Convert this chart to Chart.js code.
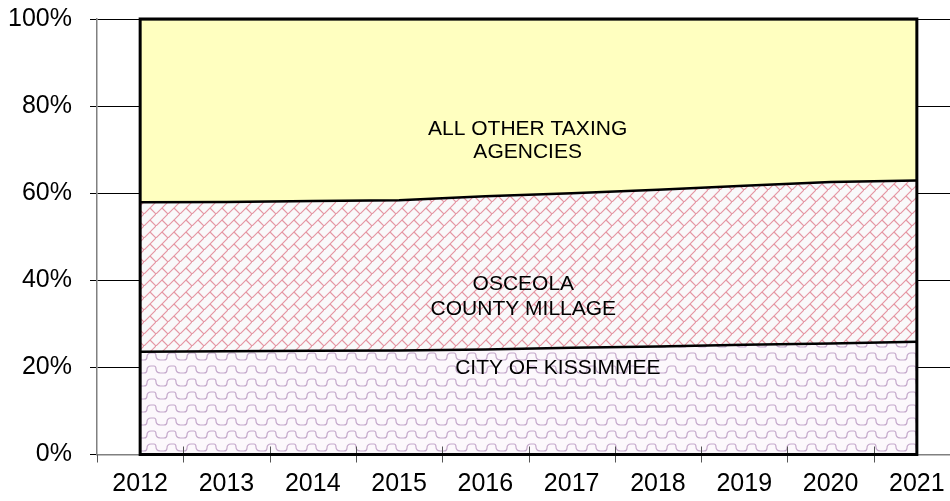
<!DOCTYPE html>
<html>
<head>
<meta charset="utf-8">
<title>Tax levy share</title>
<script src="https://cdn.jsdelivr.net/npm/chart.js@4/dist/chart.umd.min.js"></script>
<style>
    html, body { margin: 0; padding: 0; background: #fff; overflow: hidden; }
    #wrap { width: 960px; height: 515px; margin-top: -14px; }
</style>
</head>
<body>
<div id="wrap"><canvas id="shareChart" width="960" height="515"></canvas></div>
<script>
// Data (percent of total levy)
const YEARS = ['2012', '2013', '2014', '2015', '2016', '2017', '2018', '2019', '2020', '2021'];
const CITY_OF_KISSIMMEE = [23.6, 23.7, 23.8, 23.9, 24.1, 24.5, 24.8, 25.2, 25.5, 25.9];
const OSCEOLA_COUNTY = [34.3, 34.3, 34.4, 34.5, 35.2, 35.5, 36.0, 36.5, 37.1, 37.0];
const ALL_OTHER = [42.1, 42.0, 41.8, 41.6, 40.7, 40.0, 39.2, 38.3, 37.4, 37.1];
const Y_TICKS = [0, 20, 40, 60, 80, 100];

const LABEL_OTHER = ['ALL OTHER TAXING', 'AGENCIES'];
const LABEL_COUNTY = ['OSCEOLA', 'COUNTY MILLAGE'];
const LABEL_CITY = ['CITY OF KISSIMMEE'];

const canvas = document.getElementById('shareChart');
const ctx = canvas.getContext('2d');

// Diagonal brick fill (county)
function brickPattern() {
    const T = 12;
    const c = document.createElement('canvas');
    c.width = T; c.height = T;
    const g = c.getContext('2d');
    g.fillStyle = '#f9f9fa';
    g.fillRect(0, 0, T, T);
    g.strokeStyle = '#e596a3';
    g.lineWidth = 1.2;
    g.beginPath();
    g.moveTo(-1, T + 1); g.lineTo(T + 1, -1);
    g.moveTo(T / 2, T / 2); g.lineTo(T + 1, T + 1);
    g.stroke();
    return ctx.createPattern(c, 'repeat');
}

// Wave / scallop fill (city)
function wavePattern() {
    const W = 20, H = 13;
    const c = document.createElement('canvas');
    c.width = W; c.height = H;
    const g = c.getContext('2d');
    g.fillStyle = '#fcf8fc';
    g.fillRect(0, 0, W, H);
    g.strokeStyle = '#c4a8cb';
    g.lineWidth = 1.2;
    g.beginPath();
    g.moveTo(-1, 10);
    g.lineTo(4, 10);
    g.quadraticCurveTo(7, 10, 7, 7);
    g.quadraticCurveTo(7, 3, 11, 3);
    g.lineTo(14, 3);
    g.quadraticCurveTo(16, 3, 16, 6);
    g.quadraticCurveTo(16, 10, 21, 10);
    g.stroke();
    return ctx.createPattern(c, 'repeat');
}

// Outer frame of the stacked area + x tick marks crossing the axis
const frameAndTicks = {
    id: 'frameAndTicks',
    afterDatasetsDraw(chart) {
        const { ctx, scales: { x, y } } = chart;
        const x0 = x.getPixelForValue(0);
        const x1 = x.getPixelForValue(YEARS.length - 1);
        const yb = y.getPixelForValue(0);
        const yt = y.getPixelForValue(100);
        ctx.save();
        ctx.strokeStyle = '#555';
        ctx.lineWidth = 1;
        ctx.beginPath();
        for (let i = 0; i <= YEARS.length; i++) {
            const px = Math.round(x.getPixelForValue(i - 0.5)) + 0.5;
            ctx.moveTo(px, i === 0 ? yb : yb - 8);
            ctx.lineTo(px, yb + 8);
        }
        ctx.stroke();
        ctx.strokeStyle = '#000';
        ctx.lineWidth = 3;
        ctx.strokeRect(x0, yt, x1 - x0, yb - yt);
        ctx.restore();
    }
};

// Series names written inside the areas
const areaLabels = {
    id: 'areaLabels',
    afterDatasetsDraw(chart) {
        const { ctx, scales: { x, y } } = chart;
        const put = (lines, xi, yv, gap) => {
            lines.forEach((t, k) => {
                ctx.fillText(t, x.getPixelForValue(xi), y.getPixelForValue(yv) + k * gap);
            });
        };
        ctx.save();
        ctx.font = '21px Arial, "Liberation Sans", sans-serif';
        ctx.fillStyle = '#000';
        ctx.textAlign = 'center';
        ctx.textBaseline = 'middle';
        put(LABEL_OTHER, 4.49, 74.6, 23);
        put(LABEL_COUNTY, 4.44, 39.2, 25);
        put(LABEL_CITY, 4.84, 19.9, 0);
        ctx.restore();
    }
};

const tickFont = { family: 'Arial, "Liberation Sans", sans-serif', size: 25 };

new Chart(ctx, {
    type: 'line',
    data: {
        labels: YEARS,
        datasets: [
            {
                label: 'CITY OF KISSIMMEE',
                data: CITY_OF_KISSIMMEE,
                backgroundColor: wavePattern(),
                borderColor: '#000',
                borderWidth: 2.5,
                fill: 'origin'
            },
            {
                label: 'OSCEOLA COUNTY MILLAGE',
                data: OSCEOLA_COUNTY,
                backgroundColor: brickPattern(),
                borderColor: '#000',
                borderWidth: 2.5,
                fill: '-1'
            },
            {
                label: 'ALL OTHER TAXING AGENCIES',
                data: ALL_OTHER,
                backgroundColor: '#ffffc0',
                borderColor: '#000',
                borderWidth: 2.5,
                fill: '-1'
            }
        ]
    },
    options: {
        responsive: false,
        animation: false,
        layout: { padding: { top: 6, left: 0, right: 0, bottom: 0 } },
        elements: { point: { radius: 0 }, line: { tension: 0 } },
        plugins: {
            legend: { display: false },
            tooltip: { enabled: false }
        },
        scales: {
            x: {
                offset: true,
                grid: { display: false },
                border: { display: true, color: '#808080', width: 1.5 },
                ticks: { color: '#000', font: tickFont, padding: 7, maxRotation: 0, autoSkip: false },
                afterFit: s => { s.height = 46.5; }
            },
            y: {
                stacked: true,
                min: 0,
                max: 100,
                afterBuildTicks: s => { s.ticks = Y_TICKS.map(v => ({ value: v })); },
                grid: { color: '#000', lineWidth: 1, tickLength: 7 },
                border: { display: true, color: '#808080', width: 1.5 },
                ticks: { color: '#000', font: tickFont, padding: 18, callback: v => v + '%' },
                afterFit: s => { s.width = 97; }
            }
        }
    },
    plugins: [frameAndTicks, areaLabels]
});
</script>
</body>
</html>
